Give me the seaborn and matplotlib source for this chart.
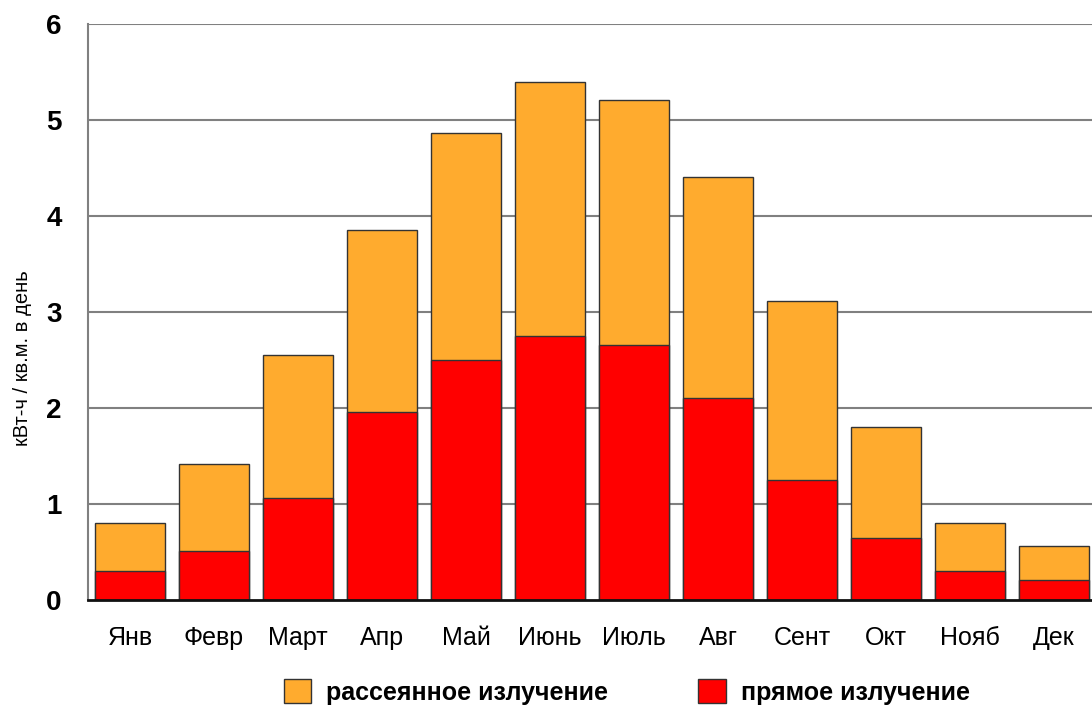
import numpy as np
import pandas as pd
import matplotlib
matplotlib.use("Agg")
import matplotlib.pyplot as plt
import seaborn as sns

# ---------------------- DATA ----------------------
months = ["Янв", "Февр", "Март", "Апр", "Май", "Июнь",
          "Июль", "Авг", "Сент", "Окт", "Нояб", "Дек"]
total = [0.80, 1.42, 2.55, 3.85, 4.86, 5.40, 5.21, 4.41, 3.11, 1.80, 0.80, 0.56]
direct = [0.30, 0.51, 1.06, 1.96, 2.50, 2.75, 2.66, 2.10, 1.25, 0.65, 0.30, 0.21]
yticks = [0, 1, 2, 3, 4, 5, 6]
# ---------------------------------------------------

df = pd.DataFrame({"month": months, "total": total, "direct": direct})

ORANGE = "#FFAB2E"
RED = "#FF0000"

sns.set_theme(style="white")
plt.rcParams["font.family"] = ["Liberation Sans", "DejaVu Sans"]
plt.rcParams["text.color"] = "black"
plt.rcParams["xtick.color"] = "black"
plt.rcParams["ytick.color"] = "black"
plt.rcParams["axes.labelcolor"] = "black"

fig = plt.figure(figsize=(10.92, 7.09), dpi=100)
ax = fig.add_axes([0.0806, 0.1537, 0.923, 0.8125])

ax.set_axisbelow(True)
for v in yticks[1:]:
    ax.axhline(v, color="#808080", lw=1.5, zorder=0)

# diffuse part drawn as the full bar, direct part on top of it
sns.barplot(data=df, x="month", y="total", color=ORANGE, width=0.83,
            edgecolor="#333333", linewidth=1.0, saturation=1,
            label="рассеянное излучение", ax=ax)
sns.barplot(data=df, x="month", y="direct", color=RED, width=0.83,
            edgecolor="#333333", linewidth=1.0, saturation=1,
            label="прямое излучение", ax=ax)

ax.set_xlim(-0.5, 11.5)
ax.set_ylim(0, 6)
ax.set_yticks(yticks)
ax.set_yticklabels([str(t) for t in yticks], fontsize=20, fontweight="bold")
ax.tick_params(axis="x", labelsize=18, pad=19, length=0)
ax.tick_params(axis="y", pad=19, length=0)
ax.set_xlabel("")
ax.set_ylabel("кВт-ч / кв.м. в день", fontsize=14.5)
ax.yaxis.set_label_coords(-0.056, 0.42)

for s in ["top", "right"]:
    ax.spines[s].set_visible(False)
ax.spines["left"].set_color("#808080")
ax.spines["left"].set_linewidth(1.5)
ax.spines["bottom"].set_color("#111111")
ax.spines["bottom"].set_linewidth(2)

ax.legend().remove()
handles, labels = ax.get_legend_handles_labels()
fig.legend(handles, labels, loc="lower center", bbox_to_anchor=(0.574, -0.026),
           ncol=2, frameon=False, prop={"size": 18, "weight": "bold"},
           handlelength=1.1, handleheight=1.1, columnspacing=3.6,
           handletextpad=0.6)

fig.savefig("out.png", dpi=100)
